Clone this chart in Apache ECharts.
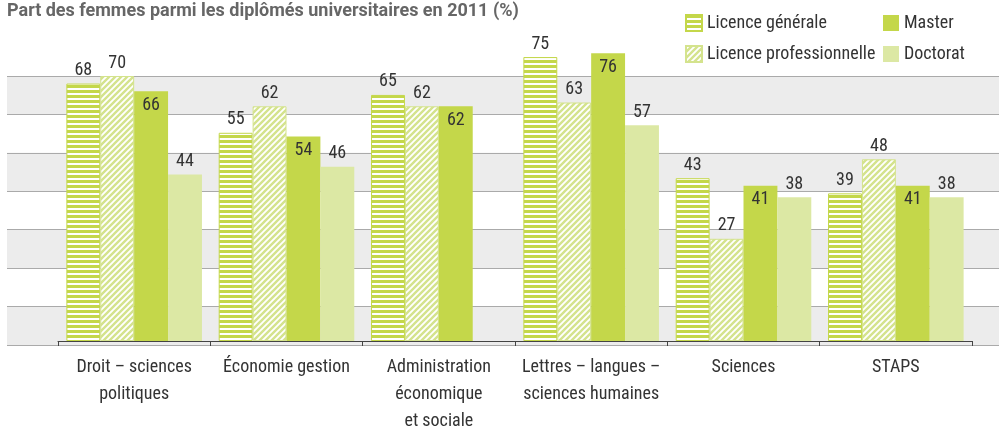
<!DOCTYPE html>
<html>
<head>
<meta charset="utf-8">
<script src="https://cdn.jsdelivr.net/npm/echarts@6/dist/echarts.min.js"></script>
<style>
  html, body { margin: 0; padding: 0; background: #fff; }
  #chart { width: 999px; height: 435px; }
</style>
</head>
<body>
<div id="chart"></div>
<script>
// Part des femmes parmi les diplômés universitaires, par discipline (2011)
const categories = [
  'Droit – sciences\npolitiques',
  'Économie gestion',
  'Administration\néconomique\net sociale',
  'Lettres – langues –\nsciences humaines',
  'Sciences',
  'STAPS'
];
const licenceGenerale = [68, 55, 65, 75, 43, 39];
const licencePro      = [70, 62, 62, 63, 27, 48];
const master          = [66, 54, 62, 76, 41, 41];
const doctorat        = [44, 46, null, 57, 38, 38];
const yTicks = { min: 0, max: 70, interval: 10 };

const GREEN = '#c4d74a';
const GREEN_PRO = '#d4e38d';
const GREEN_DOC = '#dce8a4';
const FONT = "'Roboto Condensed','Liberation Sans Narrow','DejaVu Sans Condensed',Roboto,sans-serif";

// horizontal stripes fill
function stripePattern() {
  const c = document.createElement('canvas');
  c.width = 10; c.height = 5;
  const g = c.getContext('2d');
  g.fillStyle = '#ffffff'; g.fillRect(0, 0, 10, 5);
  g.fillStyle = GREEN; g.fillRect(0, 0, 10, 3);
  return { image: c, repeat: 'repeat' };
}
// diagonal hatch fill
function hatchPattern() {
  const s = 6;
  const c = document.createElement('canvas');
  c.width = s; c.height = s;
  const g = c.getContext('2d');
  g.fillStyle = '#ffffff'; g.fillRect(0, 0, s, s);
  g.strokeStyle = GREEN_PRO; g.lineWidth = 2.4;
  g.beginPath();
  g.moveTo(-1, s + 1); g.lineTo(s + 1, -1);
  g.moveTo(-1, 1); g.lineTo(1, -1);
  g.moveTo(s - 1, s + 1); g.lineTo(s + 1, s - 1);
  g.stroke();
  return { image: c, repeat: 'repeat' };
}

const chart = echarts.init(document.getElementById('chart'), null, { renderer: 'canvas' });

const topLabel = { show: true, position: 'top', distance: 4, color: '#333', fontSize: 18, fontFamily: FONT };
const insideLabel = { show: true, position: 'insideTop', distance: 5, color: '#333', fontSize: 18, fontFamily: FONT };

const legendText = { color: '#333', fontSize: 18, fontFamily: FONT };

chart.setOption({
  animation: false,
  title: {
    text: 'Part des femmes parmi les diplômés universitaires en 2011 (%)',
    left: 2, top: -3,
    textStyle: { color: '#666', fontSize: 18, fontWeight: 'bold', fontFamily: 'Roboto, sans-serif' }
  },
  legend: [
    {
      orient: 'vertical', left: 685, top: 14, itemGap: 13, padding: 0,
      itemWidth: 16, itemHeight: 16, icon: 'rect',
      data: ['Licence générale', 'Licence professionnelle'],
      textStyle: legendText
    },
    {
      orient: 'vertical', left: 883, top: 14, itemGap: 13, padding: 0,
      itemWidth: 16, itemHeight: 16, icon: 'rect',
      data: ['Master', 'Doctorat'],
      textStyle: legendText
    }
  ],
  grid: [
    { left: 7, right: 0, top: 76, bottom: 90 },
    { left: 58, right: 27, top: 76, bottom: 90 }
  ],
  xAxis: [
    { gridIndex: 0, type: 'category', data: categories, show: false },
    {
      gridIndex: 1, type: 'category', data: categories,
      axisLine: { lineStyle: { color: '#444', width: 1 } },
      axisTick: { show: true, length: 5, lineStyle: { color: '#444' } },
      axisLabel: { color: '#333', fontSize: 18, lineHeight: 27, margin: 13, fontFamily: FONT, interval: 0 }
    }
  ],
  yAxis: [
    {
      gridIndex: 0, type: 'value', min: yTicks.min, max: yTicks.max, interval: yTicks.interval,
      axisLine: { show: false }, axisTick: { show: false }, axisLabel: { show: false },
      splitLine: { show: true, lineStyle: { color: '#aaaaaa', width: 1 } },
      splitArea: { show: true, areaStyle: { color: ['#ececec', 'rgba(255,255,255,0)'] } }
    },
    {
      gridIndex: 1, type: 'value', min: yTicks.min, max: yTicks.max, interval: yTicks.interval,
      show: false, splitLine: { show: false }
    }
  ],
  series: [
    {
      name: 'Licence générale', type: 'bar', xAxisIndex: 1, yAxisIndex: 1,
      data: licenceGenerale, clip: false,
      barGap: '0%', barCategoryGap: '11%',
      itemStyle: { color: stripePattern(), borderColor: GREEN, borderWidth: 1 },
      label: topLabel
    },
    {
      name: 'Licence professionnelle', type: 'bar', xAxisIndex: 1, yAxisIndex: 1,
      data: licencePro, clip: false,
      barGap: '0%', barCategoryGap: '11%',
      itemStyle: { color: hatchPattern(), borderColor: GREEN_PRO, borderWidth: 1 },
      label: topLabel
    },
    {
      name: 'Master', type: 'bar', xAxisIndex: 1, yAxisIndex: 1,
      data: master, clip: false,
      barGap: '0%', barCategoryGap: '11%',
      itemStyle: { color: GREEN },
      label: insideLabel
    },
    {
      name: 'Doctorat', type: 'bar', xAxisIndex: 1, yAxisIndex: 1,
      data: doctorat, clip: false,
      barGap: '0%', barCategoryGap: '11%',
      itemStyle: { color: GREEN_DOC },
      label: topLabel
    }
  ]
});
</script>
</body>
</html>
